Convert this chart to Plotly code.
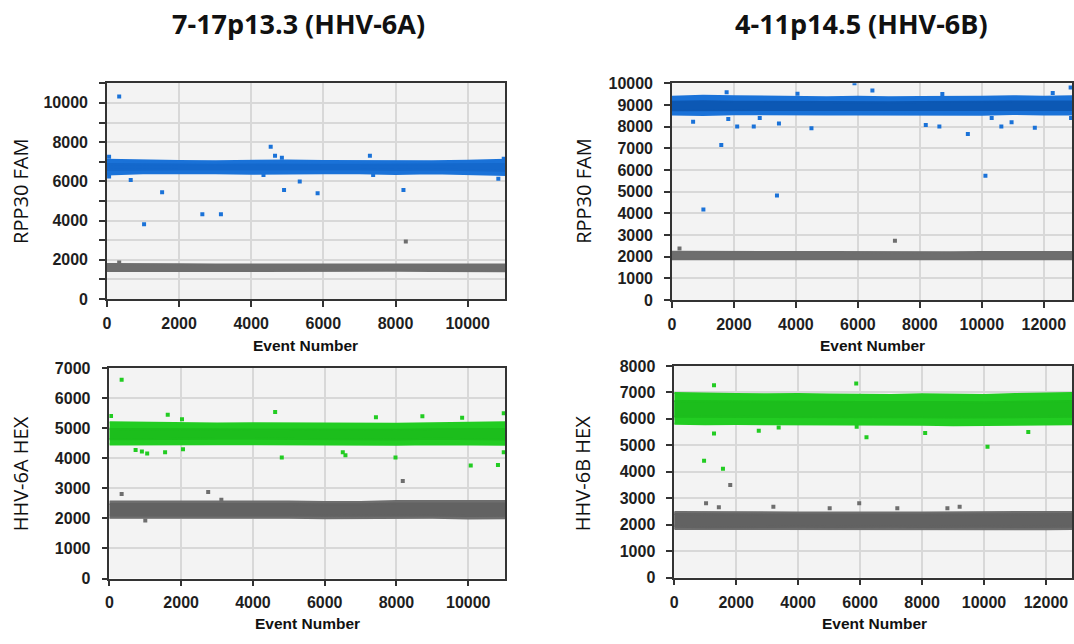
import plotly.graph_objects as go

W, H = 1074, 644

# ---------------- DATA ----------------
# event-number grid at which the edges of each dense droplet cluster were read
grid_a = [0, 1000, 2000, 3000, 4000, 5000, 6000, 7000, 8000, 9000, 10000, 11040]
grid_b = [0, 1000, 2000, 3000, 4000, 5000, 6000, 7000, 8000, 9000, 10000, 11000, 12000, 12910]

# Panel A-top (7-17p13.3, RPP30 FAM)
a_fam_pos_hi = [7100, 7060, 7040, 7030, 7060, 7060, 7040, 7030, 7030, 7020, 7050, 7100]
a_fam_pos_lo = [6350, 6420, 6430, 6420, 6390, 6390, 6410, 6420, 6380, 6420, 6380, 6320]
a_fam_pos_core_hi = [6880, 6860, 6860, 6850, 6860, 6870, 6850, 6850, 6860, 6860, 6860, 6880]
a_fam_pos_core_lo = [6580, 6600, 6610, 6600, 6580, 6590, 6600, 6610, 6580, 6600, 6580, 6540]
a_fam_neg_hi = [1790, 1770, 1780, 1770, 1770, 1780, 1790, 1780, 1770, 1780, 1780, 1770]
a_fam_neg_lo = [1430, 1440, 1440, 1430, 1440, 1440, 1430, 1440, 1440, 1430, 1440, 1420]
a_fam_out_x = [60, 60, 340, 660, 1030, 1530, 2645, 3160, 4340, 4540, 4660, 4850, 4910, 5345, 5840, 7290, 7380, 8220, 10850, 11000]
a_fam_out_y = [7250, 6250, 10320, 6070, 3820, 5440, 4330, 4330, 6320, 7760, 7300, 7200, 5560, 5990, 5390, 7300, 6320, 5560, 6140, 7150]
a_fam_neg_out_x = [340, 8285]
a_fam_neg_out_y = [1860, 2930]

# Panel B-top (4-11p14.5, RPP30 FAM)
b_fam_pos_hi = [9380, 9420, 9400, 9380, 9380, 9360, 9380, 9350, 9370, 9360, 9380, 9400, 9380, 9400]
b_fam_pos_lo = [8560, 8540, 8570, 8560, 8570, 8560, 8560, 8570, 8560, 8560, 8550, 8580, 8560, 8560]
b_fam_pos_core_hi = [9150, 9170, 9150, 9140, 9150, 9130, 9140, 9120, 9140, 9130, 9150, 9160, 9150, 9160]
b_fam_pos_core_lo = [8760, 8750, 8770, 8770, 8780, 8770, 8760, 8780, 8770, 8770, 8760, 8780, 8770, 8770]
b_fam_neg_hi = [2230, 2220, 2230, 2210, 2220, 2220, 2210, 2220, 2220, 2210, 2220, 2220, 2210, 2220]
b_fam_neg_lo = [1880, 1870, 1880, 1880, 1870, 1880, 1870, 1880, 1870, 1880, 1880, 1870, 1880, 1880]
b_fam_out_x = [683, 1015, 1592, 1765, 1818, 2105, 2640, 2833, 3389, 3453, 4052, 4502, 5891, 6469, 8191, 8630, 8726,
               9549, 10116, 10318, 10630, 10960, 11710, 12288, 12866, 12880]
b_fam_out_y = [8230, 4180, 7150, 9580, 8350, 8010, 8010, 8400, 4820, 8140, 9520, 7920, 10000, 9670, 8070, 8010, 9500,
               7660, 5730, 8400, 8010, 8200, 7950, 9550, 9800, 8400]
b_fam_neg_out_x = [244, 7196]
b_fam_neg_out_y = [2380, 2740]

# Panel A-bottom (HHV-6A HEX)
a_hex_pos_hi = [5200, 5180, 5170, 5160, 5170, 5160, 5150, 5140, 5150, 5170, 5180, 5200]
a_hex_pos_lo = [4460, 4450, 4460, 4470, 4470, 4460, 4470, 4460, 4450, 4470, 4460, 4450]
a_hex_pos_core_hi = [4980, 4970, 4960, 4950, 4960, 4960, 4950, 4940, 4950, 4970, 4970, 4980]
a_hex_pos_core_lo = [4640, 4630, 4640, 4650, 4650, 4640, 4650, 4640, 4630, 4650, 4640, 4630]
a_hex_neg_hi = [2560, 2570, 2560, 2560, 2570, 2560, 2550, 2550, 2580, 2580, 2590, 2580]
a_hex_neg_lo = [2020, 2010, 2020, 2030, 2020, 2020, 2010, 2020, 2010, 2020, 2000, 2010]
a_hex_out_x = [45, 341, 730, 905, 1053, 1552, 1626, 2023, 2051, 4619, 4804, 6504, 6578, 7428, 7973, 8722, 9830, 10070, 10829, 10990, 10990]
a_hex_out_y = [5410, 6620, 4280, 4230, 4160, 4200, 5450, 5300, 4300, 5540, 4030, 4200, 4100, 5370, 4030, 5400, 5350, 3760, 3780, 5500, 4200]
a_hex_neg_out_x = [341, 1000, 2753, 3120, 8176]
a_hex_neg_out_y = [2810, 1930, 2880, 2620, 3250]

# Panel B-bottom (HHV-6B HEX)
b_hex_pos_hi = [6980, 6950, 6940, 6930, 6940, 6920, 6910, 6900, 6930, 6920, 6900, 6940, 6960, 6980]
b_hex_pos_lo = [5820, 5800, 5810, 5800, 5790, 5800, 5790, 5780, 5780, 5760, 5750, 5780, 5790, 5800]
b_hex_pos_core_hi = [6680, 6670, 6660, 6660, 6660, 6650, 6640, 6640, 6650, 6640, 6630, 6650, 6670, 6680]
b_hex_pos_core_lo = [6080, 6070, 6080, 6080, 6070, 6080, 6070, 6060, 6060, 6050, 6040, 6060, 6070, 6080]
b_hex_neg_hi = [2480, 2470, 2460, 2470, 2460, 2460, 2450, 2460, 2460, 2470, 2460, 2470, 2480, 2480]
b_hex_neg_lo = [1840, 1820, 1830, 1830, 1840, 1830, 1830, 1840, 1830, 1830, 1840, 1830, 1830, 1840]
b_hex_out_x = [963, 1284, 1284, 1573, 2729, 3371, 5875, 5890, 6206, 8100, 10112, 11429]
b_hex_out_y = [4420, 7270, 5450, 4110, 5550, 5670, 7340, 5700, 5310, 5470, 4950, 5500]
b_hex_neg_out_x = [1027, 1440, 1808, 3200, 5018, 5971, 7201, 8818, 9213]
b_hex_neg_out_y = [2810, 2660, 3500, 2680, 2620, 2810, 2620, 2620, 2680]

titles = ["7-17p13.3 (HHV-6A)", "4-11p14.5 (HHV-6B)"]
ytitles = ["RPP30 FAM", "RPP30 FAM", "HHV-6A HEX", "HHV-6B HEX"]
xtitle = "Event Number"

# ---------------- STYLE ----------------
BLUE, BLUE_CORE, BLUE_CORE_B = "#1a72d8", "#1468cc", "#0c58b4"
GREEN, GREEN_CORE = "#22cc22", "#1cbe1c"
GRAY, GRAY_CORE = "#6e6e6e", "#626262"
PLOT_BG = "#f3f3f3"
GRID = "#d8d8d8"
AXIS = "#333333"


def px_x(p):
    return p / W


def px_y(p):
    return 1 - p / H


fig = go.Figure()


def band(xax, yax, xs, hi, lo, color):
    fig.add_trace(go.Scatter(
        x=list(xs) + list(xs)[::-1], y=list(hi) + list(lo)[::-1],
        fill="toself", fillcolor=color, mode="lines",
        line=dict(color=color, width=2), xaxis=xax, yaxis=yax,
        hoverinfo="skip", showlegend=False))


def dots(xax, yax, xs, ys, color):
    fig.add_trace(go.Scatter(
        x=xs, y=ys, mode="markers",
        marker=dict(symbol="square", size=4, color=color, line=dict(width=0)),
        xaxis=xax, yaxis=yax, showlegend=False))


# top-left
band("x", "y", grid_a, a_fam_pos_hi, a_fam_pos_lo, BLUE)
band("x", "y", grid_a, a_fam_pos_core_hi, a_fam_pos_core_lo, BLUE_CORE)
band("x", "y", grid_a, a_fam_neg_hi, a_fam_neg_lo, GRAY)
dots("x", "y", a_fam_out_x, a_fam_out_y, BLUE)
dots("x", "y", a_fam_neg_out_x, a_fam_neg_out_y, GRAY)
# top-right
band("x2", "y2", grid_b, b_fam_pos_hi, b_fam_pos_lo, BLUE)
band("x2", "y2", grid_b, b_fam_pos_core_hi, b_fam_pos_core_lo, BLUE_CORE_B)
band("x2", "y2", grid_b, b_fam_neg_hi, b_fam_neg_lo, GRAY)
dots("x2", "y2", b_fam_out_x, b_fam_out_y, BLUE)
dots("x2", "y2", b_fam_neg_out_x, b_fam_neg_out_y, GRAY)
# bottom-left
band("x3", "y3", grid_a, a_hex_pos_hi, a_hex_pos_lo, GREEN)
band("x3", "y3", grid_a, a_hex_pos_core_hi, a_hex_pos_core_lo, GREEN_CORE)
band("x3", "y3", grid_a, a_hex_neg_hi, a_hex_neg_lo, GRAY)
band("x3", "y3", grid_a, [v - 80 for v in a_hex_neg_hi], [v + 80 for v in a_hex_neg_lo], GRAY_CORE)
dots("x3", "y3", a_hex_out_x, a_hex_out_y, GREEN)
dots("x3", "y3", a_hex_neg_out_x, a_hex_neg_out_y, GRAY)
# bottom-right
band("x4", "y4", grid_b, b_hex_pos_hi, b_hex_pos_lo, GREEN)
band("x4", "y4", grid_b, b_hex_pos_core_hi, b_hex_pos_core_lo, GREEN_CORE)
band("x4", "y4", grid_b, b_hex_neg_hi, b_hex_neg_lo, GRAY)
band("x4", "y4", grid_b, [v - 80 for v in b_hex_neg_hi], [v + 80 for v in b_hex_neg_lo], GRAY_CORE)
dots("x4", "y4", b_hex_out_x, b_hex_out_y, GREEN)
dots("x4", "y4", b_hex_neg_out_x, b_hex_neg_out_y, GRAY)

tickfont = dict(family="Liberation Sans", size=16, color="#1e1e1e", weight="bold")


def common():
    return dict(tick0=0, tickformat="d", showgrid=True, gridcolor=GRID, gridwidth=1.5,
                zeroline=False, showline=True, linecolor=AXIS, linewidth=1.5, mirror=True,
                ticks="outside", ticklen=6, tickcolor=AXIS, tickwidth=1.5,
                tickfont=tickfont, fixedrange=True)


def xaxis(dom, rng, anchor):
    d = common()
    d.update(domain=dom, range=rng, anchor=anchor, dtick=2000, ticklabelstandoff=3)
    return d


def yaxis(dom, rng, anchor, dtick, minor):
    d = common()
    d.update(domain=dom, range=rng, anchor=anchor, dtick=dtick, ticklabelstandoff=8)
    if minor:
        d["minor"] = dict(dtick=1000, tick0=0, ticks="outside", ticklen=6, tickcolor=AXIS,
                          tickwidth=1.5, showgrid=True, gridcolor=GRID, gridwidth=1.5)
    return d


fig.update_layout(
    width=W, height=H, margin=dict(l=0, r=0, t=0, b=0),
    paper_bgcolor="white", plot_bgcolor=PLOT_BG, showlegend=False,
    xaxis=xaxis([px_x(103.5), px_x(504)], [0, 11040], "y"),
    yaxis=yaxis([px_y(299), px_y(76.7)], [0, 11030], "x", 2000, True),
    xaxis2=xaxis([px_x(671.7), 1.0], [0, 12910], "y2"),
    yaxis2=yaxis([px_y(300), px_y(77.3)], [0, 10000], "x2", 1000, False),
    xaxis3=xaxis([px_x(106), px_x(504)], [0, 11030], "y3"),
    yaxis3=yaxis([px_y(586), px_y(370)], [0, 7000], "x3", 1000, False),
    xaxis4=xaxis([px_x(674), 1.0], [0, 12840], "y4"),
    yaxis4=yaxis([px_y(585), px_y(367.7)], [0, 8000], "x4", 1000, False),
)

ann = []
for txt, cx in zip(titles, [296, 862]):
    ann.append(dict(text=txt, x=px_x(cx), y=px_y(16), xref="paper", yref="paper",
                    showarrow=False, xanchor="center", yanchor="middle",
                    font=dict(family="Open Sans", size=27, color="#111111", weight="bold")))
for txt, cx, cy in zip(ytitles, [16, 582, 16, 582], [188, 188, 478, 478]):
    ann.append(dict(text=txt, x=px_x(cx), y=px_y(cy), xref="paper", yref="paper",
                    showarrow=False, xanchor="center", yanchor="middle", textangle=-90,
                    font=dict(family="Open Sans", size=20, color="#111111")))
for cx, cy in [(303, 347), (873, 347), (305, 632), (875, 632)]:
    ann.append(dict(text=xtitle, x=px_x(cx), y=px_y(cy), xref="paper", yref="paper",
                    showarrow=False, xanchor="center", yanchor="middle",
                    font=dict(family="Liberation Sans", size=15.5, color="#111111", weight="bold")))
fig.update_layout(annotations=ann)

fig.write_html("out.html", config={"displayModeBar": False},
               post_script="document.body.style.margin='0';document.body.style.overflow='hidden';")
